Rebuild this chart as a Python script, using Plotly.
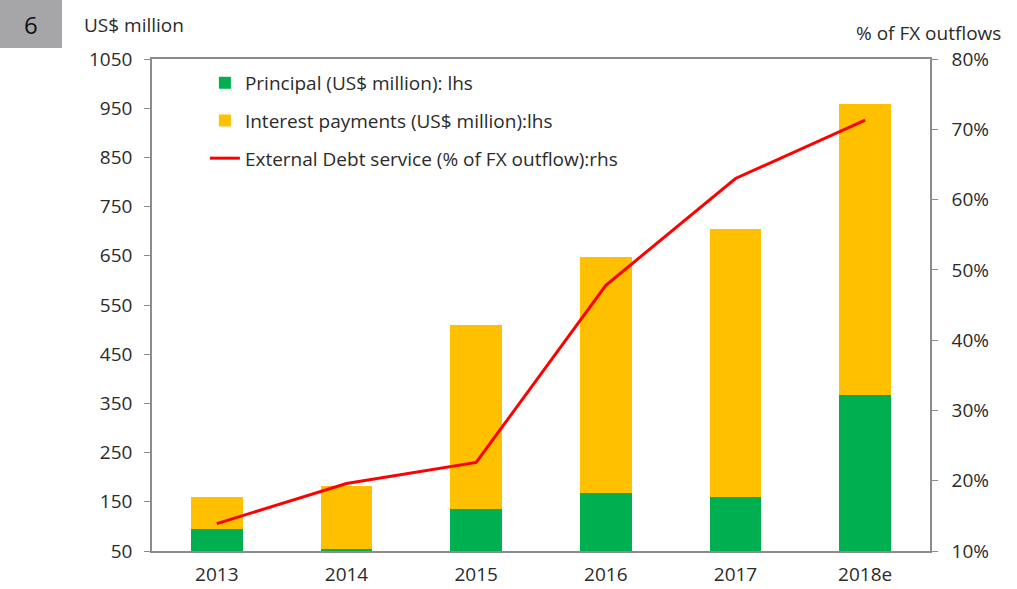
import plotly.graph_objects as go

years = ["2013", "2014", "2015", "2016", "2017", "2018e"]
principal = [95, 55, 135, 167, 159, 368]
interest = [65, 128, 374, 481, 545, 590]
debt_service_pct = [13.9, 19.6, 22.6, 47.8, 63.0, 71.3]

left_ticks = list(range(50, 1051, 100))
right_ticks = list(range(10, 81, 10))

font_family = "Open Sans, Noto Sans, sans-serif"
txt = "#2b2b2b"
axis_col = "#8c8c8c"
FS = 19

fig = go.Figure()
fig.add_trace(go.Bar(x=years, y=principal, name="Principal (US$ million): lhs",
                     marker=dict(color="#00b050", line=dict(width=0)), legendgroup="a"))
fig.add_trace(go.Bar(x=years, y=interest, name="Interest payments (US$ million):lhs",
                     marker=dict(color="#ffc000", line=dict(width=0)), legendgroup="b"))
fig.add_trace(go.Scatter(x=years, y=debt_service_pct, name="External Debt service (% of FX outflow):rhs",
                         mode="lines", line=dict(color="#ff0000", width=3), yaxis="y2", legendgroup="c"))

fig.update_layout(
    width=1017, height=589,
    margin=dict(l=152, r=87, t=59, b=38, autoexpand=False),
    paper_bgcolor="white", plot_bgcolor="white",
    barmode="stack", bargap=0.6,
    font=dict(family=font_family, size=FS, color=txt),
    showlegend=True,
    legend=dict(x=0.068, y=0.99, xanchor="left", yanchor="top", traceorder="grouped",
                bgcolor="rgba(0,0,0,0)", font=dict(size=FS, color=txt),
                tracegroupgap=10, itemwidth=30),
    xaxis=dict(showline=True, linecolor=axis_col, linewidth=1.5, ticks="", mirror=True,
               tickfont=dict(size=FS, color=txt), ticklabelstandoff=5, automargin=False),
    yaxis=dict(range=[50, 1050], tickvals=left_ticks, showgrid=False, showline=True,
               linecolor=axis_col, linewidth=1.5, ticks="outside", ticklen=6, tickcolor=axis_col,
               tickfont=dict(size=FS, color=txt), zeroline=False, ticklabelstandoff=8,
               automargin=False),
    yaxis2=dict(range=[10, 80], tickvals=right_ticks, ticktext=[f"{v}%" for v in right_ticks],
                overlaying="y", side="right", showgrid=False, showline=True,
                linecolor=axis_col, linewidth=1.5, ticks="outside", ticklen=6, tickcolor=axis_col,
                tickfont=dict(size=FS, color=txt), zeroline=False, ticklabelstandoff=10,
                automargin=False),
    shapes=[dict(type="rect", xref="paper", yref="paper", x0=-152/778, x1=(62-152)/778,
                 y0=(551-48)/492, y1=551/492, fillcolor="#a6a6a8", line=dict(width=0),
                 layer="below")],
    annotations=[
        dict(text="6", xref="paper", yref="paper", x=(31-152)/778, y=(551-24)/492,
             showarrow=False, font=dict(size=24, color="#111111"), xanchor="center", yanchor="middle"),
        dict(text="US$ million", xref="paper", yref="paper", x=(82-152)/778, y=(551-25)/492,
             showarrow=False, font=dict(size=FS, color=txt), xanchor="left", yanchor="middle"),
        dict(text="% of FX outflows", xref="paper", yref="paper", x=(1003-152)/778, y=(551-33)/492,
             showarrow=False, font=dict(size=FS, color=txt), xanchor="right", yanchor="middle"),
    ],
)

fig.write_html("out.html", config={"displayModeBar": False},
               post_script="document.body.style.margin='0px';document.body.style.overflow='hidden';")
